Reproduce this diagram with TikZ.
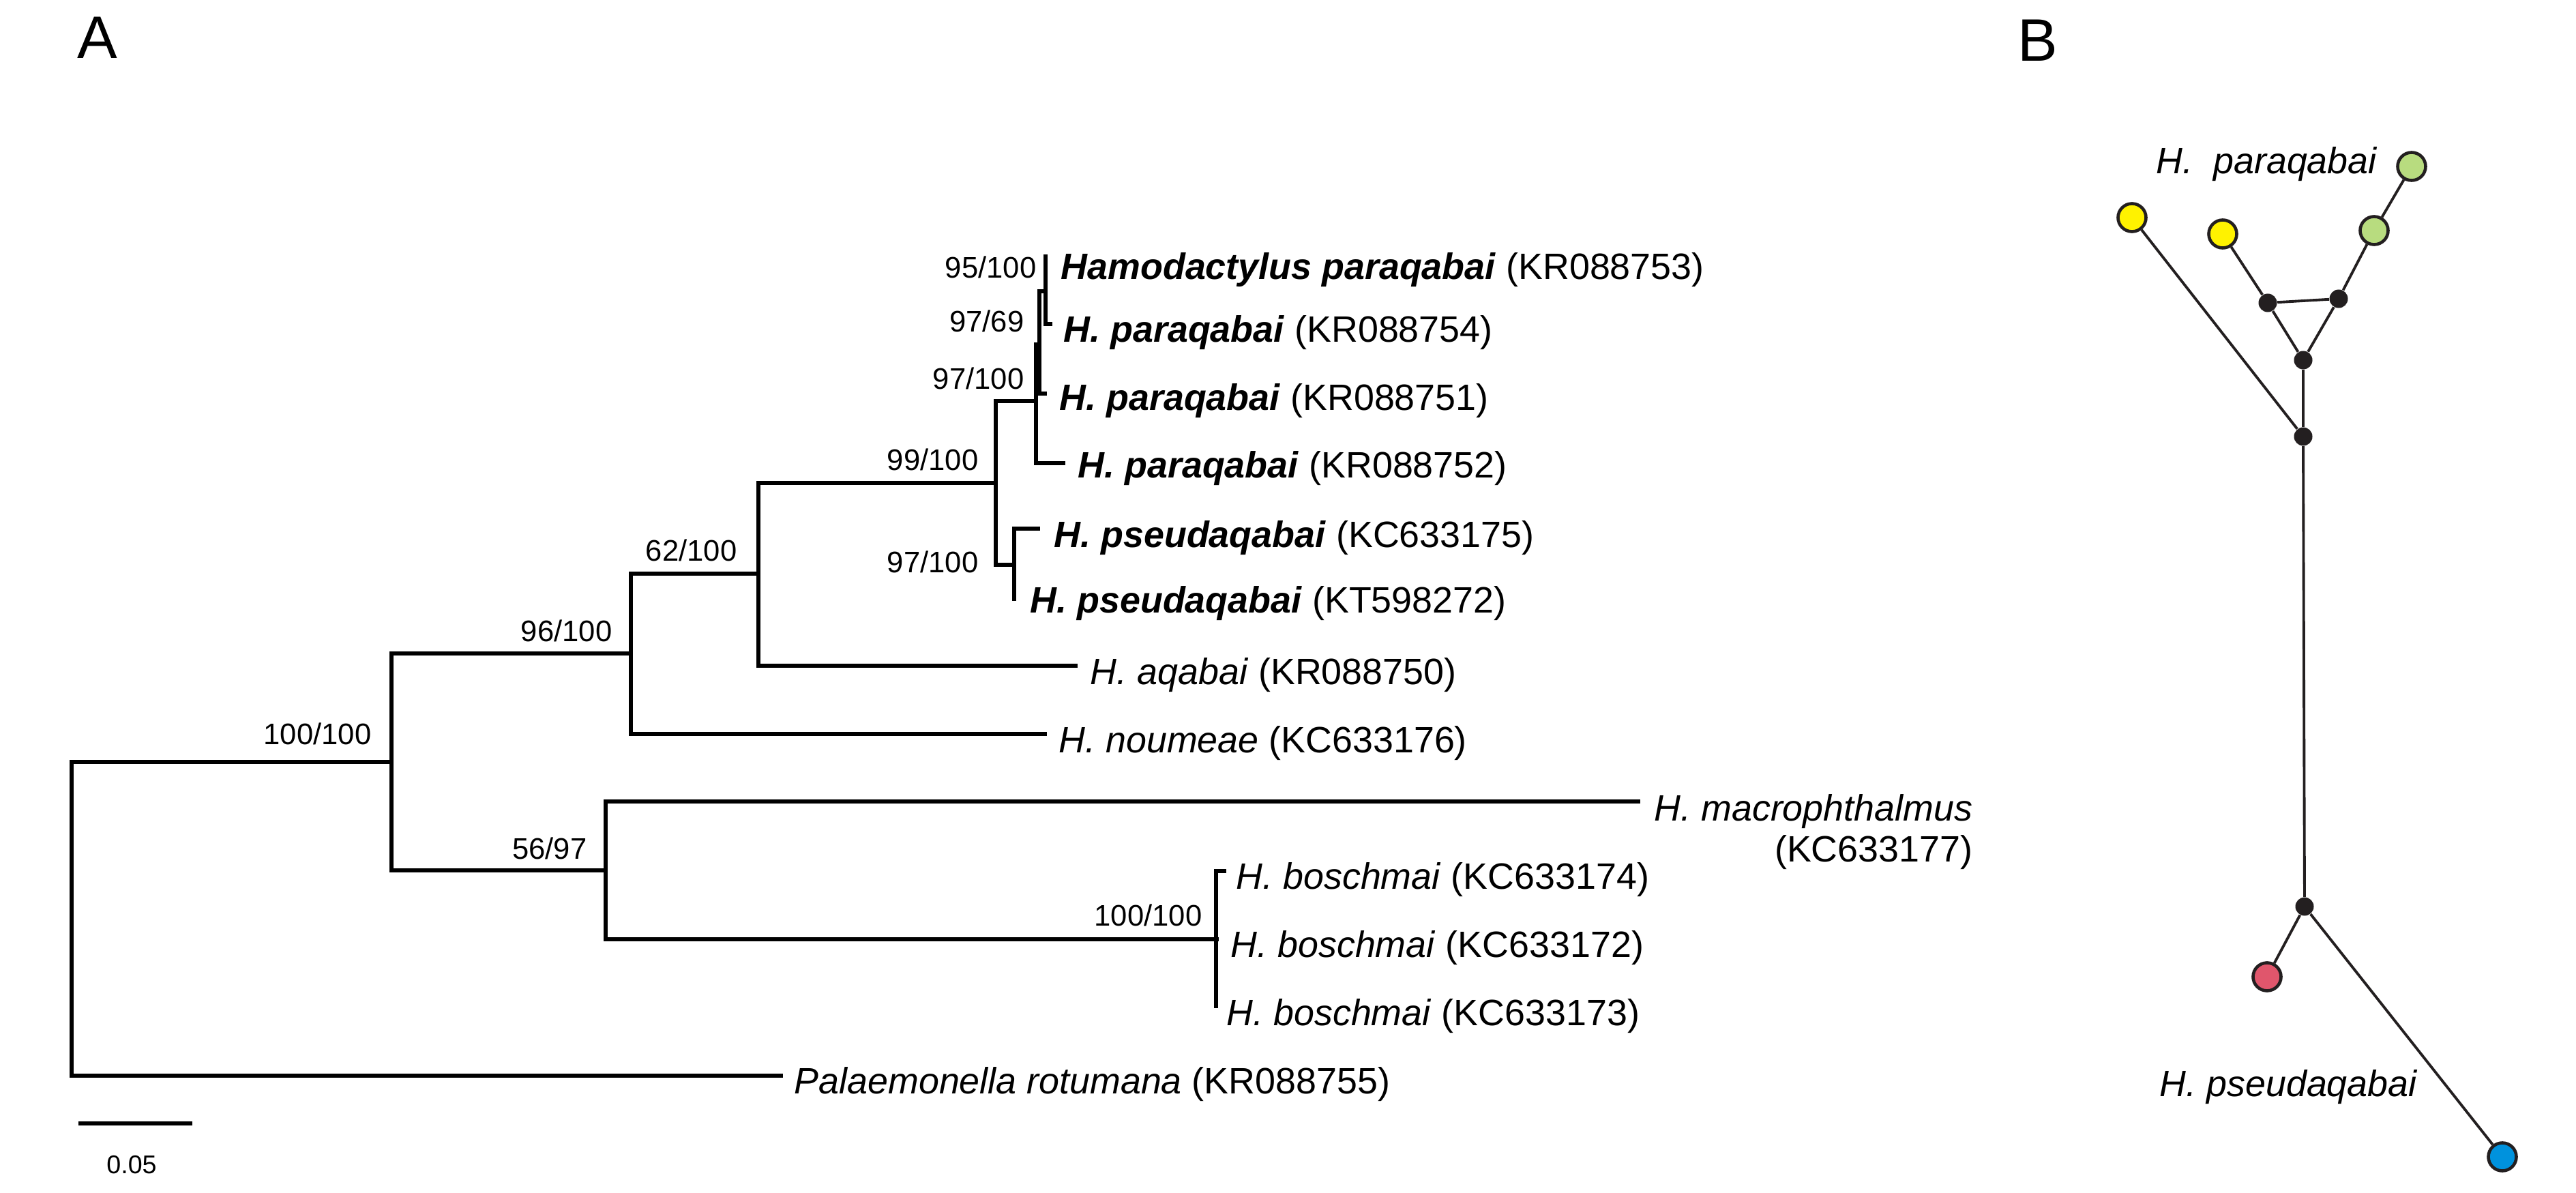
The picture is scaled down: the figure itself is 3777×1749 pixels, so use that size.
\documentclass[tikz,border=0pt]{standalone}
\usepackage{fontspec}
\setmainfont{Liberation Sans}
\usetikzlibrary{calc}
\definecolor{hapyellow}{RGB}{255,242,0}
\definecolor{hapgreen}{RGB}{184,220,127}
\definecolor{hapred}{RGB}{224,86,108}
\definecolor{hapblue}{RGB}{0,146,221}
\definecolor{netblack}{RGB}{35,31,32}
\newcommand\tipsize{\fontsize{15.3}{18}\selectfont}
\newcommand\suppsize{\fontsize{12.4}{15}\selectfont}
\newcommand\bp[1]{\textbf{\textit{#1}}}

\begin{document}
\begin{tikzpicture}[x=0.01cm,y=-0.01cm,
  branch/.style={line width=1.45pt},
  tiplab/.style={anchor=base west,inner sep=0pt,font=\tipsize},
  supp/.style={anchor=base east,inner sep=0pt,font=\suppsize},
  panel/.style={anchor=base west,inner sep=0pt,font=\fontsize{25}{30}\selectfont},
  hap/.style={circle,draw=netblack,line width=1.3pt,inner sep=0pt,minimum size=0.41cm},
  mv/.style={circle,fill=netblack,inner sep=0pt,minimum size=0.27cm},
  netedge/.style={draw=netblack,line width=1.1pt}]
  \useasboundingbox (0,0) rectangle (3777,1749);
  \node[panel] (panelA) at (113,86) {A};
  \node[panel] (panelB) at (2958,90) {B};

  % A: tree, internal nodes then tips
  \foreach \nm/\x/\y in {root/105/1347,n100/574/1117,n96/925/958,n62/1112/841,n99/1460/708,
      nA/1519/588,nB/1524/505,nD/1533/427,npse/1487/828,n56/888/1276,nbo/1783/1377}
    \coordinate (\nm) at (\x,\y);
  \foreach \nm/\x/\y in {t753/1533/373,t754/1543/475,t751/1535/577,t752/1562/679,t175/1525/775,
      t272/1490/878,t750/1580/976,t176/1535/1076,t177/2405/1175,t174/1798/1277,t172/1787/1377,
      t173/1783/1478,t755/1148/1577}
    \coordinate (\nm) at (\x,\y);
  \foreach \p/\c in {root/n100,root/t755,n100/n96,n100/n56,n96/n62,n96/t176,n62/n99,n62/t750,
      n99/nA,n99/npse,nA/nB,nA/t752,nB/nD,nB/t751,nD/t753,nD/t754,npse/t175,npse/t272,
      n56/t177,n56/nbo,nbo/t174,nbo/t172,nbo/t173}
    \draw[branch] (\p) |- (\c);

  % tip labels
  \foreach \nm/\x/\y/\txt in {t753/1555/410/{\bp{Hamodactylus paraqabai} (KR088753)},
      t754/1559/502/{\bp{H. paraqabai} (KR088754)},
      t751/1553/602/{\bp{H. paraqabai} (KR088751)},
      t752/1580/701/{\bp{H. paraqabai} (KR088752)},
      t175/1545/803/{\bp{H. pseudaqabai} (KC633175)},
      t272/1510/898/{\bp{H. pseudaqabai} (KT598272)},
      t750/1598/1003/{\textit{H. aqabai} (KR088750)},
      t176/1552/1103/{\textit{H. noumeae} (KC633176)},
      t174/1812/1303/{\textit{H. boschmai} (KC633174)},
      t172/1804/1403/{\textit{H. boschmai} (KC633172)},
      t173/1798/1503/{\textit{H. boschmai} (KC633173)},
      t755/1164/1603/{\textit{Palaemonella rotumana} (KR088755)}}
    \node[tiplab] (l\nm) at (\x,\y) {\txt};
  \node[tiplab] (lt177) at (2425,1203) {\textit{H. macrophthalmus}};
  \node[tiplab,anchor=base east] (lt177b) at ($(lt177.base east)+(0,60)$) {(KC633177)};

  % support values
  \foreach \nm/\x/\y/\a/\b in {s100/545/1091/100/100,s96/898/940/96/100,s62/1081/822/62/100,
      s99/1435/690/99/100,s97b/1435/840/97/100,s95/1520/408/95/100,s9769/1502/487/97/69,
      s97a/1502/571/97/100,s56/861/1259/56/97,s100b/1763/1357/100/100}
    \node[supp] (\nm) at (\x,\y) {\a/\b};

  % scale bar
  \coordinate (sbl) at (115,1647);
  \coordinate (sbr) at (282,1647);
  \draw[branch] (sbl) -- (sbr);
  \node[anchor=base,inner sep=0pt,font=\fontsize{10.7}{13}\selectfont] (sblab) at (193,1720) {0.05};

  % B: haplotype network
  \node[hap,fill=hapgreen] (hapG1) at (3536,244) {};
  \node[hap,fill=hapgreen] (hapG2) at (3481,338) {};
  \node[hap,fill=hapyellow] (hapY1) at (3126,319) {};
  \node[hap,fill=hapyellow] (hapY2) at (3259,343) {};
  \node[hap,fill=hapred] (hapR) at (3324,1432) {};
  \node[hap,fill=hapblue] (hapB) at (3669,1696) {};
  \node[mv] (mvL) at (3325,444) {};
  \node[mv] (mvR) at (3429,438) {};
  \node[mv] (mvM) at (3377,528) {};
  \node[mv] (mvU) at (3377,640) {};
  \node[mv] (mvD) at (3379,1329) {};
  \foreach \a/\b in {hapG1/hapG2,hapG2/mvR,mvR/mvL,hapY2/mvL,mvL/mvM,mvR/mvM,mvM/mvU,
      hapY1/mvU,mvU/mvD,mvD/hapR,mvD/hapB}
    \draw[netedge] (\a) -- (\b);
  \node[tiplab] (netpara) at (3161,255) {\textit{H.\ \ paraqabai}};
  \node[tiplab] (netpseu) at (3166,1607) {\textit{H. pseudaqabai}};
\end{tikzpicture}
\end{document}
